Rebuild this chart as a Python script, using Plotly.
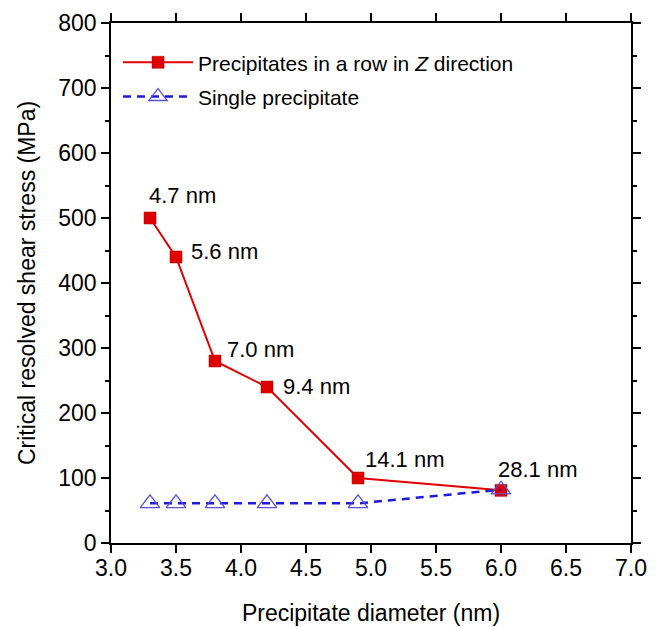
import plotly.graph_objects as go

# ---- data ----
diameter = [3.3, 3.5, 3.8, 4.2, 4.9, 6.0]
row_stress = [500, 440, 280, 240, 100, 81]
single_stress = [61, 61, 61, 61, 61, 82]
spacing_labels = ["4.7 nm", "5.6 nm", "7.0 nm", "9.4 nm", "14.1 nm", "28.1 nm"]
x_ticks = [3.0, 3.5, 4.0, 4.5, 5.0, 5.5, 6.0, 6.5, 7.0]
y_ticks = [0, 100, 200, 300, 400, 500, 600, 700, 800]

# label offsets in pixels (styling only)
label_dx = [-3, 13, 10, 14, 5, -5]
label_dy = [23, 6, 12, 1, 19, 21]

FONT = "Liberation Sans, Arial, sans-serif"
RED = "#e00000"
BLUE = "#1a1ae0"
TRI = "#5a50d0"

fig = go.Figure()
fig.add_trace(go.Scatter(
    x=diameter, y=row_stress, mode="lines+markers",
    name="Precipitates in a row in <i>Z</i> direction",
    line=dict(color=RED, width=2),
    marker=dict(symbol="square", size=12, color=RED,
                line=dict(color="#b00000", width=0.5)),
    legend="legend", showlegend=True,
))
fig.add_trace(go.Scatter(
    x=diameter, y=single_stress, mode="lines+markers",
    name="Single precipitate",
    line=dict(color=BLUE, width=2.5, dash="8px,6px"),
    marker=dict(symbol="triangle-up-open", size=17, color=TRI,
                line=dict(color=TRI, width=1.3)),
    legend="legend2", showlegend=True,
))

for xv, yv, txt, dx, dy in zip(diameter, row_stress, spacing_labels, label_dx, label_dy):
    fig.add_annotation(x=xv, y=yv, xref="x", yref="y", text=txt,
                       showarrow=False, xanchor="left", yanchor="middle",
                       xshift=dx, yshift=dy,
                       font=dict(family=FONT, size=22, color="black"))

axis_common = dict(
    showline=True, linecolor="black", linewidth=1.8, mirror="allticks",
    ticks="outside", ticklen=8, tickwidth=1.5, tickcolor="black",
    showgrid=False, zeroline=False, automargin=False,
    tickfont=dict(family=FONT, size=23, color="black"),
)

fig.update_layout(
    width=659, height=627,
    margin=dict(l=111, r=28, t=23, b=84),
    paper_bgcolor="white", plot_bgcolor="white",
    font=dict(family=FONT, color="black"),
    showlegend=True,
    xaxis=dict(**axis_common, range=[3.0, 7.0], tickvals=x_ticks,
               ticktext=[f"{v:.1f}" for v in x_ticks],
               ticklabelstandoff=-5,
               title=dict(text="Precipitate diameter (nm)",
                          font=dict(family=FONT, size=23), standoff=25)),
    yaxis=dict(**axis_common, range=[0, 800], tickvals=y_ticks,
               ticktext=[str(v) for v in y_ticks],
               minor=dict(ticks="outside", ticklen=4, tickwidth=1.5,
                          tickcolor="black", dtick=50, showgrid=False),
               title=dict(text="Critical resolved shear stress (MPa)",
                          font=dict(family=FONT, size=23), standoff=16)),
    legend=dict(x=0.0135, y=0.9237, xanchor="left", yanchor="middle",
                bgcolor="rgba(0,0,0,0)", borderwidth=0, itemwidth=70,
                font=dict(family=FONT, size=21, color="black")),
    legend2=dict(x=0.0135, y=0.858, xanchor="left", yanchor="middle",
                 bgcolor="rgba(0,0,0,0)", borderwidth=0, itemwidth=70,
                 font=dict(family=FONT, size=21, color="black")),
)

fig.write_html("out.html",
               config={"displayModeBar": False},
               post_script="document.body.style.margin='0';document.body.style.overflow='hidden';")
